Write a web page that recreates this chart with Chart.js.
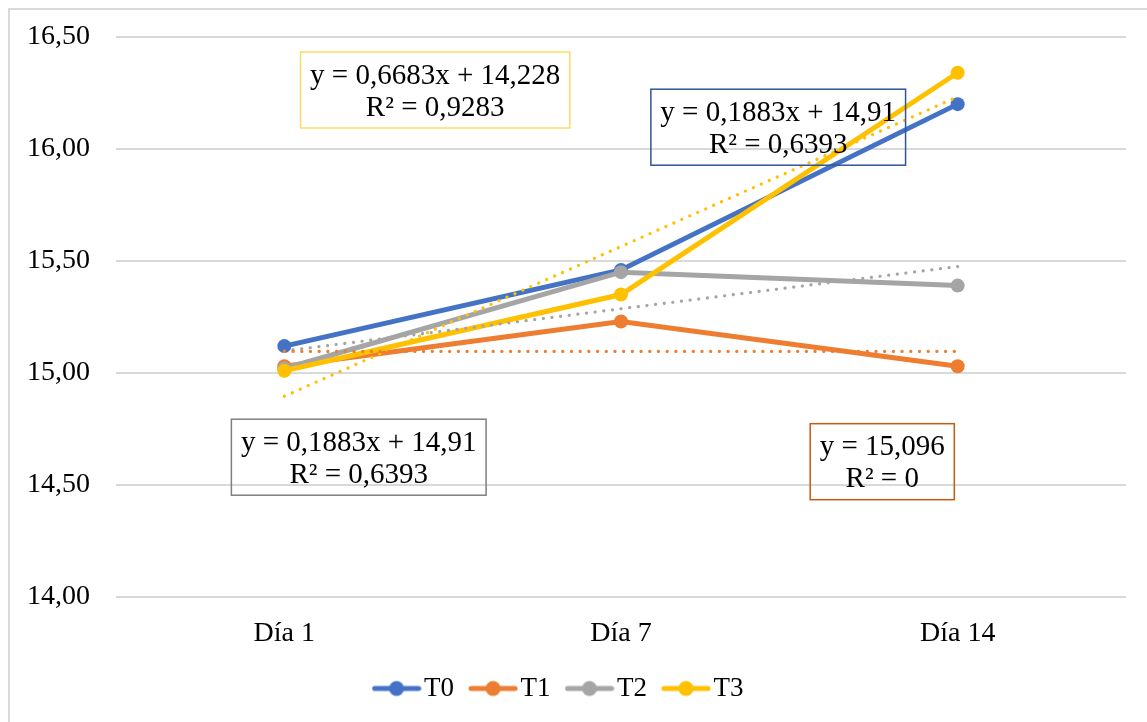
<!DOCTYPE html>
<html lang="es">
<head>
<meta charset="UTF-8">
<title>T0-T3</title>
<script src="https://cdn.jsdelivr.net/npm/chart.js"></script>
<style>
	html, body { margin: 0; padding: 0; background: #fff; overflow: hidden; }
	#frame { position: absolute; left: 8px; top: 8px; width: 2000px; height: 2000px; border-top: 2px solid #d9d9d9; border-left: 2px solid #d9d9d9; }
	#wrap { position: absolute; left: 0; top: 0; width: 1147px; height: 722px; }
</style>
</head>
<body>
<div id="frame"></div>
<div id="wrap"><canvas id="chart" width="1147" height="722"></canvas></div>
<script>
// categories and series
const dias = ['Día 1', 'Día 7', 'Día 14'];
const t0 = [15.12, 15.46, 16.20];
const t1 = [15.03, 15.23, 15.03];
const t2 = [15.02, 15.45, 15.39];
const t3 = [15.01, 15.35, 16.34];

// trendline ends (Día 1, Día 14)
const trendT1 = [15.096, 15.096];
const trendT2 = [15.098, 15.475];
const trendT3 = [14.896, 16.233];

const yTicks = [14.0, 14.5, 15.0, 15.5, 16.0, 16.5];

const colors = { T0: '#4472C4', T1: '#ED7D31', T2: '#A5A5A5', T3: '#FFC000' };
const FONT = 'Liberation Serif, Times New Roman, serif';

// equation boxes, anchored at (category index, value)
const eqBoxes = [
	{ lines: ['y = 0,6683x + 14,228', 'R² = 0,9283'], at: [0.448, 16.263], border: '#FFD966' },
	{ lines: ['y = 0,1883x + 14,91', 'R² = 0,6393'], at: [1.467, 16.097], border: '#2F5597' },
	{ lines: ['y = 0,1883x + 14,91', 'R² = 0,6393'], at: [0.221, 14.624], border: '#7F7F7F' },
	{ lines: ['y = 15,096', 'R² = 0'], at: [1.776, 14.604], border: '#C55A11' }
];

function legendGlyph(color) {
	const c = document.createElement('canvas');
	c.width = 50; c.height = 18;
	const g = c.getContext('2d');
	g.strokeStyle = color; g.lineWidth = 5; g.lineCap = 'round';
	g.beginPath(); g.moveTo(3, 9); g.lineTo(47, 9); g.stroke();
	g.fillStyle = color;
	g.beginPath(); g.arc(25, 9, 7.5, 0, Math.PI * 2); g.fill();
	return c;
}

function series(label, data, order) {
	return {
		label: label, data: data, order: order,
		borderColor: colors[label], backgroundColor: colors[label],
		borderWidth: 5, pointRadius: 7, pointHoverRadius: 7,
		pointBorderWidth: 0, tension: 0
	};
}

function trend(name, ends) {
	return {
		label: 'trend ' + name, data: [ends[0], null, ends[1]], spanGaps: true, order: 0,
		borderColor: colors[name], borderWidth: 3.2, borderDash: [0.1, 8.6], borderCapStyle: 'round',
		pointRadius: 0, pointHoverRadius: 0, fill: false
	};
}

const eqPlugin = {
	id: 'eqPlugin',
	afterDatasetsDraw(chart) {
		const ctx = chart.ctx, xs = chart.scales.x, ys = chart.scales.y;
		ctx.save();
		ctx.font = '29px ' + FONT;
		ctx.textAlign = 'center';
		ctx.textBaseline = 'middle';
		eqBoxes.forEach(b => {
			const step = xs.getPixelForValue(1) - xs.getPixelForValue(0);
			const cx = xs.getPixelForValue(0) + b.at[0] * step;
			const cy = ys.getPixelForValue(b.at[1]);
			const w = Math.max(...b.lines.map(l => ctx.measureText(l).width)) + 19;
			const h = 76;
			ctx.strokeStyle = b.border; ctx.lineWidth = 1.5;
			ctx.strokeRect(cx - w / 2, cy - h / 2, w, h);
			ctx.fillStyle = '#000';
			ctx.fillText(b.lines[0], cx, cy - 14);
			ctx.fillText(b.lines[1], cx, cy + 18);
		});
		ctx.restore();
	}
};

new Chart(document.getElementById('chart'), {
	type: 'line',
	data: {
		labels: dias,
		datasets: [
			series('T0', t0, 4), series('T1', t1, 3), series('T2', t2, 2), series('T3', t3, 1),
			trend('T1', trendT1), trend('T2', trendT2), trend('T3', trendT3)
		]
	},
	options: {
		responsive: false,
		animation: false,
		layout: { padding: { top: 10, left: 0, right: 21, bottom: 10 } },
		plugins: {
			tooltip: { enabled: false },
			legend: {
				position: 'bottom',
				labels: {
					usePointStyle: true, pointStyleWidth: 28, padding: 25,
					color: '#000', font: { family: FONT, size: 27 },
					filter: item => !item.text.startsWith('trend'),
					generateLabels: chart => chart.data.datasets.map((d, i) => ({
						text: d.label, datasetIndex: i, hidden: false, lineWidth: 0,
						fillStyle: d.borderColor, strokeStyle: d.borderColor,
						pointStyle: legendGlyph(d.borderColor), fontColor: '#000'
					}))
				}
			}
		},
		scales: {
			x: {
				offset: true,
				grid: { display: false, drawTicks: false, offset: true },
				border: { display: false },
				ticks: { color: '#000', padding: 20, font: { family: FONT, size: 28 } },
				afterFit: s => { s.height = 53; }
			},
			y: {
				min: 14, max: 16.5,
				afterBuildTicks: s => { s.ticks = yTicks.map(v => ({ value: v })); },
				grid: { color: '#d9d9d9', lineWidth: 2, drawTicks: false },
				border: { display: false },
				ticks: {
					color: '#000', padding: 26, font: { family: FONT, size: 28, lineHeight: 0.78 },
					callback: v => v.toFixed(2).replace('.', ',')
				},
				afterFit: s => { s.width = 116; }
			}
		}
	},
	plugins: [eqPlugin]
});
</script>
</body>
</html>
